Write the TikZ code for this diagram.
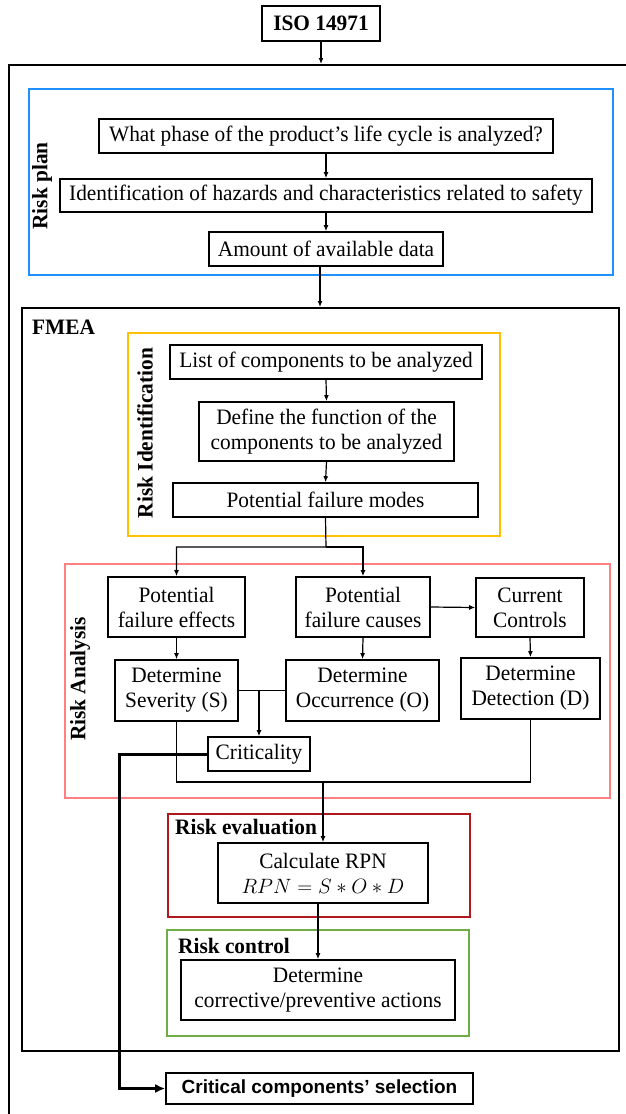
\documentclass[tikz,border=0pt]{standalone}
\usepackage{fontspec}
\setmainfont[FakeStretch=0.97]{Liberation Serif}
\newfontfamily\arialfont{Liberation Sans}
\usetikzlibrary{arrows.meta}
\definecolor{blueF}{RGB}{30,144,255}
\definecolor{yellowF}{RGB}{255,192,0}
\definecolor{pinkF}{RGB}{255,128,128}
\definecolor{redF}{RGB}{175,25,30}
\definecolor{greenF}{RGB}{112,173,71}
\begin{document}
\begin{tikzpicture}[x=1pt,y=-1pt,
  box/.style={draw, line width=1.6pt, inner sep=0pt, align=center, font=\fontsize{22}{25}\selectfont},
  frame/.style={draw, line width=2pt, inner sep=0pt, anchor=north west},
  lbl/.style={font=\bfseries\fontsize{22}{25}\selectfont, inner sep=0pt},
  arr/.style={line width=1.2pt, -{Latex[length=6pt,width=5pt]}},
  ln/.style={line width=1.2pt},
]
\useasboundingbox (0,0) rectangle (626,1114);
\clip (0,0) rectangle (626,1114);
\fill[white] (0,0) rectangle (626,1114);

% frames
\node[frame, minimum width=700pt, minimum height=1200pt] (outer) at (8,64) {};
\node[frame, draw=blueF, minimum width=584pt, minimum height=186pt] (blue) at (28,88) {};
\node[frame, minimum width=597pt, minimum height=743pt] (fmea) at (21,307) {};
\node[frame, draw=yellowF, minimum width=372pt, minimum height=203pt] (yellow) at (127,332) {};
\node[frame, draw=pinkF, minimum width=545pt, minimum height=234pt] (pink) at (64,563) {};
\node[frame, draw=redF, minimum width=302pt, minimum height=103pt] (red) at (167,813) {};
\node[frame, draw=greenF, minimum width=302pt, minimum height=106pt] (green) at (166,929) {};

% labels
\node[lbl, rotate=90] (lrp) at (42,186) {Risk plan};
\node[lbl, anchor=west] (lfmea) at (32,327) {FMEA};
\node[lbl, rotate=90] (lri) at (145,433) {Risk Identification};
\node[lbl, rotate=90] (lra) at (80,679) {Risk Analysis};
\node[lbl, anchor=west] (lre) at (175,827) {Risk evaluation};
\node[lbl, anchor=west] (lrc) at (178,946) {Risk control};

% boxes
\node[box, font=\bfseries\fontsize{22}{25}\selectfont, minimum width=118pt, minimum height=35pt] (iso) at (321,23.5) {ISO 14971};
\node[box, minimum width=454pt, minimum height=34pt] (p1) at (326,136) {What phase of the product’s life cycle is analyzed?};
\node[box, minimum width=532pt, minimum height=33pt] (p2) at (326,195.5) {Identification of hazards and characteristics related to safety};
\node[box, minimum width=234pt, minimum height=34pt] (p3) at (326,249) {Amount of available data};

\node[box, minimum width=312pt, minimum height=34pt] (i1) at (326,362) {List of components to be analyzed};
\node[box, minimum width=255pt, minimum height=59pt] (i2) at (326.5,431.5) {Define the function of the\\components to be analyzed};
\node[box, minimum width=305pt, minimum height=34pt] (i3) at (325.5,500) {Potential failure modes};

\node[box, minimum width=137pt, minimum height=60pt] (a1) at (176.5,607) {Potential\\failure effects};
\node[box, minimum width=134pt, minimum height=60pt] (a2) at (363,607) {Potential\\failure causes};
\node[box, minimum width=108pt, minimum height=59pt] (a3) at (530,607.5) {Current\\Controls};
\node[box, minimum width=123pt, minimum height=61pt] (s1) at (176.5,690.5) {Determine\\Severity (S)};
\node[box, minimum width=153pt, minimum height=61pt] (s2) at (362.5,690.5) {Determine\\Occurrence (O)};
\node[box, minimum width=139pt, minimum height=61pt] (s3) at (530.5,688.5) {Determine\\Detection (D)};
\node[box, minimum width=102pt, minimum height=34pt] (crit) at (259,754) {Criticality};

\node[box, minimum width=210pt, minimum height=60pt] (rpn) at (323,873) {Calculate RPN\\$RPN = S \ast O \ast D$};
\node[box, minimum width=274pt, minimum height=60pt] (act) at (318,990) {Determine\\corrective/preventive actions};
\node[box, font=\arialfont\bfseries\fontsize{19}{23}\selectfont, minimum width=307pt, minimum height=31pt] (ccs) at (319.5,1088.5) {Critical components’ selection};

% connectors
\coordinate (p3out) at (320,266);
\draw[arr] (iso.south) -- (iso.south |- outer.north);
\draw[arr] (p1.south) -- (p2.north);
\draw[arr] (p2.south) -- (p3.north);
\draw[arr] (p3out) -- (p3out |- fmea.north);
\draw[arr] (i1.south) -- (i2.north);
\draw[arr] (i2.south) -- (i3.north);
\coordinate (split) at (326,547);
\draw[arr] (i3.south) -- (split) -| (a1.north);
\draw[arr] (split) -| (a2.north);
\draw[arr] (a2.east) -- (a3.west);
\draw[arr] (a1.south) -- (s1.north);
\draw[arr] (a2.south) -- (s2.north);
\draw[arr] (a3.south) -- (s3.north);
\draw[ln] (s1.east) -- (s2.west);
\draw[arr] (s1.east -| crit.north) -- (crit.north);
\coordinate (merge) at (323,782);
\draw[ln] (s1.south) |- (s3.south |- merge) -- (s3.south);
\draw[arr] (merge) -- (rpn.north);
\draw[arr] (rpn.south -| act.north) -- (act.north);
\coordinate (bend) at (119,754);
\draw[line width=3pt, -{Latex[length=10pt,width=9pt]}] (crit.west) -- (bend) |- (ccs.west);
\end{tikzpicture}
\end{document}
